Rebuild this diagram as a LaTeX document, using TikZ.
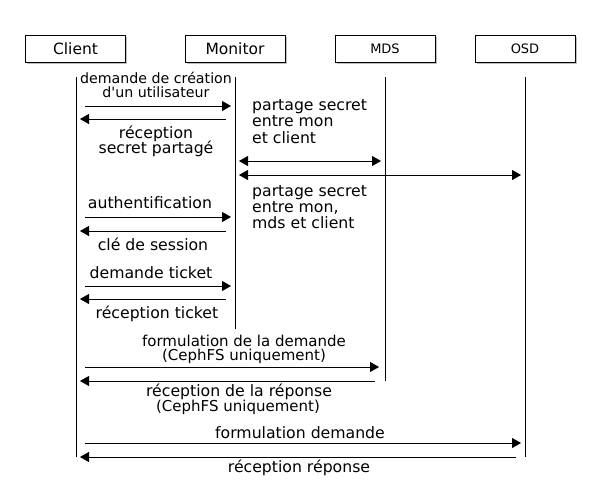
\documentclass[tikz,border=0pt]{standalone}
\usepackage{fontspec}
\setmainfont{DejaVu Sans}
\newfontfamily\plainfont{DejaVu Sans}
\usetikzlibrary{arrows.meta,shadows}
\begin{document}
\begin{tikzpicture}[x=1pt,y=-1pt,
  actor/.style={draw,fill=white,line width=0.8pt,minimum width=100pt,minimum height=27pt,inner sep=0pt,
    font=\fontsize{15.5}{18}\selectfont,
    drop shadow={shadow xshift=1.5pt,shadow yshift=-1.5pt,fill=black,opacity=0.25}},
  smallactor/.style={actor,font=\fontsize{13}{15}\selectfont},
  lifeline/.style={draw,line width=0.8pt},
  msg/.style={draw,line width=0.8pt,-{Triangle[length=9pt,width=10pt]}},
  dmsg/.style={draw,line width=0.8pt,{Triangle[length=9pt,width=10pt]}-{Triangle[length=9pt,width=10pt]}},
  lbl/.style={anchor=base,inner sep=0pt,font=\fontsize{15.7}{18}\selectfont},
  lbll/.style={lbl,anchor=base west},
  lblA/.style={lbl,font=\plainfont\fontsize{14.2}{16}\selectfont},
  lblB/.style={lbl,font=\fontsize{15}{17}\selectfont}]
\useasboundingbox (0,0) rectangle (590,490);

% actors
\node[actor] (client) at (75.5,48.5) {Client};
\node[actor] (monitor) at (235,48.5) {Monitor};
\node[smallactor] (mds) at (385,48.5) {MDS};
\node[smallactor] (osd) at (525,48.5) {OSD};

% lifelines
\coordinate (clT) at (76,77);   \coordinate (clB) at (76,457);
\coordinate (moT) at (235,77);  \coordinate (moB) at (235,329);
\coordinate (mdT) at (385,77);  \coordinate (mdB) at (385,381);
\coordinate (osT) at (525,77);  \coordinate (osB) at (525,457);
\draw[lifeline] (clT) -- (clB);
\draw[lifeline] (moT) -- (moB);
\draw[lifeline] (mdT) -- (mdB);
\draw[lifeline] (osT) -- (osB);

% message end points
\coordinate (a1s) at (85,106);  \coordinate (a1e) at (231,106);
\coordinate (a2s) at (226,119); \coordinate (a2e) at (80,119);
\coordinate (a3s) at (239,161); \coordinate (a3e) at (381,161);
\coordinate (a4s) at (239,175); \coordinate (a4e) at (521,175);
\coordinate (a5s) at (85,217);  \coordinate (a5e) at (231,217);
\coordinate (a6s) at (226,231); \coordinate (a6e) at (80,231);
\coordinate (a7s) at (85,286);  \coordinate (a7e) at (231,286);
\coordinate (a8s) at (226,299); \coordinate (a8e) at (80,299);
\coordinate (a9s) at (85,367);  \coordinate (a9e) at (379,367);
\coordinate (a10s) at (375,381); \coordinate (a10e) at (80,381);
\coordinate (a11s) at (85,443); \coordinate (a11e) at (521,443);
\coordinate (a12s) at (516,457); \coordinate (a12e) at (80,457);

\draw[msg] (a1s) -- (a1e);
\draw[msg] (a2s) -- (a2e);
\draw[dmsg] (a3s) -- (a3e);
\draw[dmsg] (a4s) -- (a4e);
\draw[msg] (a5s) -- (a5e);
\draw[msg] (a6s) -- (a6e);
\draw[msg] (a7s) -- (a7e);
\draw[msg] (a8s) -- (a8e);
\draw[msg] (a9s) -- (a9e);
\draw[msg] (a10s) -- (a10e);
\draw[msg] (a11s) -- (a11e);
\draw[msg] (a12s) -- (a12e);

% labels
\node[lblA] (t1a) at (156,83.3) {demande de création};
\node[lblA] (t1b) at (156,97.3) {d'un utilisateur};
\node[lbl] (t2a) at (156,138.3) {réception};
\node[lbl] (t2b) at (156,153.3) {secret partagé};
\node[lbll] (t3a) at (252,110) {partage secret};
\node[lbll] (t3b) at (252,126.7) {entre mon};
\node[lbll] (t3c) at (252,143.3) {et client};
\node[lbll] (t4a) at (252,196.7) {partage secret};
\node[lbll] (t4b) at (252,212.7) {entre mon,};
\node[lbll] (t4c) at (252,228.3) {mds et client};
\node[lbl] (t5) at (150,208) {authentification};
\node[lbl] (t6) at (153,250) {clé de session};
\node[lbl] (t7) at (151,278.3) {demande ticket};
\node[lbl] (t8) at (157,318) {réception ticket};
\node[lblB] (t9a) at (244,346) {formulation de la demande};
\node[lblB] (t9b) at (244,360) {(CephFS uniquement)};
\node[lbl] (t10a) at (239,396.7) {réception de la réponse};
\node[lblB] (t10b) at (238,411.7) {(CephFS uniquement)};
\node[lbl] (t11) at (300,438.3) {formulation demande};
\node[lbl] (t12) at (299,472.7) {réception réponse};
\end{tikzpicture}
\end{document}
